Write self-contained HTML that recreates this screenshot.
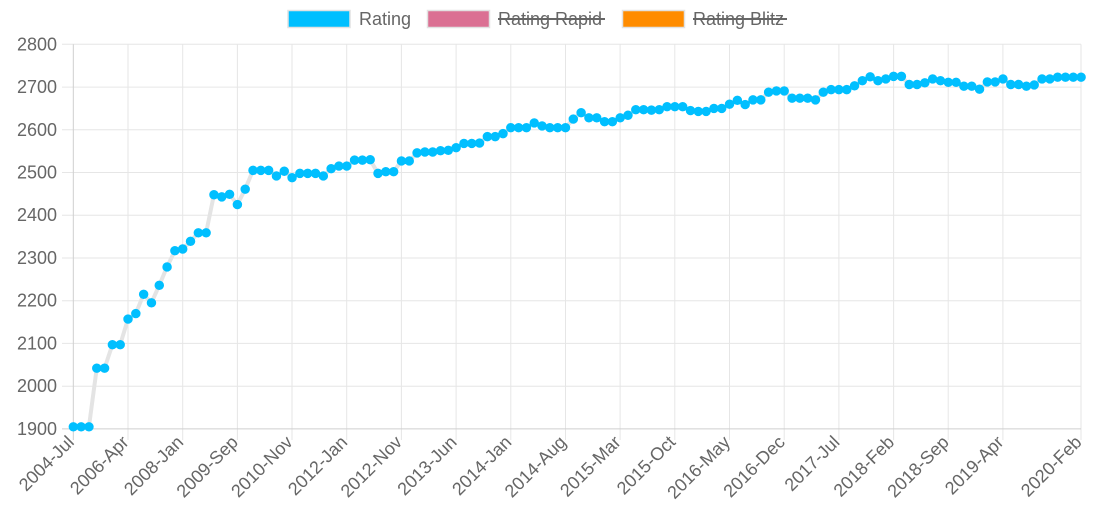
<!DOCTYPE html>
<html>
<head>
<meta charset="utf-8">
<style>
  html, body { margin: 0; padding: 0; background: #fff; }
  svg { display: block; }
  text { font-family: "Liberation Sans", Arial, sans-serif; font-size: 18px; fill: #666; }
</style>
</head>
<body>
<svg width="1102" height="519" viewBox="0 0 1102 519" xmlns="http://www.w3.org/2000/svg">
  <rect x="0" y="0" width="1102" height="519" fill="#fff"/>

  <!-- Legend -->
  <rect x="288" y="10.5" width="62" height="17" fill="#00bfff" stroke="#e2e2e2" stroke-width="1.5"/>
  <text x="359" y="19" dominant-baseline="central">Rating</text>
  <rect x="427.5" y="10.5" width="62" height="17" fill="#db7093" stroke="#e2e2e2" stroke-width="1.5"/>
  <text x="498" y="19" dominant-baseline="central">Rating Rapid</text>
  <line x1="498" y1="19" x2="605" y2="19" stroke="#666" stroke-width="2"/>
  <rect x="622.5" y="10.5" width="62" height="17" fill="#ff8c00" stroke="#e2e2e2" stroke-width="1.5"/>
  <text x="693" y="19" dominant-baseline="central">Rating Blitz</text>
  <line x1="693" y1="19" x2="787" y2="19" stroke="#666" stroke-width="2"/>

  <!-- Horizontal grid -->
  <g stroke="#e6e6e6" stroke-width="1">
    <line x1="62" y1="44.3" x2="1081" y2="44.3"/>
    <line x1="62" y1="87.1" x2="1081" y2="87.1"/>
    <line x1="62" y1="129.8" x2="1081" y2="129.8"/>
    <line x1="62" y1="172.5" x2="1081" y2="172.5"/>
    <line x1="62" y1="215.2" x2="1081" y2="215.2"/>
    <line x1="62" y1="258.0" x2="1081" y2="258.0"/>
    <line x1="62" y1="300.7" x2="1081" y2="300.7"/>
    <line x1="62" y1="343.4" x2="1081" y2="343.4"/>
    <line x1="62" y1="386.2" x2="1081" y2="386.2"/>
  </g>
  <!-- Vertical grid -->
  <g stroke="#e6e6e6" stroke-width="1">
    <line x1="128.0" y1="44.3" x2="128.0" y2="440"/>
    <line x1="182.7" y1="44.3" x2="182.7" y2="440"/>
    <line x1="237.4" y1="44.3" x2="237.4" y2="440"/>
    <line x1="292.0" y1="44.3" x2="292.0" y2="440"/>
    <line x1="346.7" y1="44.3" x2="346.7" y2="440"/>
    <line x1="401.4" y1="44.3" x2="401.4" y2="440"/>
    <line x1="456.1" y1="44.3" x2="456.1" y2="440"/>
    <line x1="510.8" y1="44.3" x2="510.8" y2="440"/>
    <line x1="565.5" y1="44.3" x2="565.5" y2="440"/>
    <line x1="620.1" y1="44.3" x2="620.1" y2="440"/>
    <line x1="674.8" y1="44.3" x2="674.8" y2="440"/>
    <line x1="729.5" y1="44.3" x2="729.5" y2="440"/>
    <line x1="784.2" y1="44.3" x2="784.2" y2="440"/>
    <line x1="838.9" y1="44.3" x2="838.9" y2="440"/>
    <line x1="893.6" y1="44.3" x2="893.6" y2="440"/>
    <line x1="948.2" y1="44.3" x2="948.2" y2="440"/>
    <line x1="1002.9" y1="44.3" x2="1002.9" y2="440"/>
    <line x1="1081.0" y1="44.3" x2="1081.0" y2="440"/>
  </g>
  <!-- Axis borders -->
  <line x1="62" y1="428.9" x2="1081" y2="428.9" stroke="#cfcfcf" stroke-width="1"/>
  <line x1="73.3" y1="44.3" x2="73.3" y2="440" stroke="#cfcfcf" stroke-width="1"/>

  <!-- Y labels -->
  <g text-anchor="end" dominant-baseline="central">
    <text x="57" y="44.3">2800</text>
    <text x="57" y="87.1">2700</text>
    <text x="57" y="129.8">2600</text>
    <text x="57" y="172.5">2500</text>
    <text x="57" y="215.2">2400</text>
    <text x="57" y="258.0">2300</text>
    <text x="57" y="300.7">2200</text>
    <text x="57" y="343.4">2100</text>
    <text x="57" y="386.2">2000</text>
    <text x="57" y="428.9">1900</text>
  </g>

  <!-- X labels -->
  <g text-anchor="end" dominant-baseline="central">
    <text transform="translate(70.8,439) rotate(-45)">2004-Jul</text>
    <text transform="translate(125.5,439) rotate(-45)">2006-Apr</text>
    <text transform="translate(180.2,439) rotate(-45)">2008-Jan</text>
    <text transform="translate(234.9,439) rotate(-45)">2009-Sep</text>
    <text transform="translate(289.5,439) rotate(-45)">2010-Nov</text>
    <text transform="translate(344.2,439) rotate(-45)">2012-Jan</text>
    <text transform="translate(398.9,439) rotate(-45)">2012-Nov</text>
    <text transform="translate(453.6,439) rotate(-45)">2013-Jun</text>
    <text transform="translate(508.3,439) rotate(-45)">2014-Jan</text>
    <text transform="translate(563.0,439) rotate(-45)">2014-Aug</text>
    <text transform="translate(617.6,439) rotate(-45)">2015-Mar</text>
    <text transform="translate(672.3,439) rotate(-45)">2015-Oct</text>
    <text transform="translate(727.0,439) rotate(-45)">2016-May</text>
    <text transform="translate(781.7,439) rotate(-45)">2016-Dec</text>
    <text transform="translate(836.4,439) rotate(-45)">2017-Jul</text>
    <text transform="translate(891.1,439) rotate(-45)">2018-Feb</text>
    <text transform="translate(945.7,439) rotate(-45)">2018-Sep</text>
    <text transform="translate(1000.4,439) rotate(-45)">2019-Apr</text>
    <text transform="translate(1078.5,439) rotate(-45)">2020-Feb</text>
  </g>

  <!-- Data -->
  <g transform="translate(73.3,428.9) scale(7.812,-0.4273)">
    <polyline fill="none" stroke="#e4e4e4" stroke-width="4" stroke-linejoin="round" vector-effect="non-scaling-stroke"
      points="0,5 1,5 2,5 3,142 4,142 5,197 6,197 7,257 8,270 9,315 10,295 11,336 12,379 13,417 14,421 15,439 16,459 17,459 18,548 19,543 20,549 21,525 22,561 23,605 24,605 25,605 26,592 27,603 28,588 29,598 30,598 31,598 32,592 33,609 34,615 35,615 36,629 37,629 38,630 39,598 40,602 41,602 42,627 43,627 44,646 45,648 46,648 47,651 48,652 49,658 50,668 51,668 52,669 53,684 54,684 55,691 56,705 57,705 58,705 59,716 60,709 61,705 62,705 63,705 64,725 65,740 66,728 67,728 68,719 69,719 70,728 71,734 72,747 73,747 74,746 75,747 76,754 77,754 78,754 79,745 80,743 81,743 82,750 83,750 84,760 85,769 86,759 87,770 88,770 89,788 90,791 91,791 92,774 93,774 94,774 95,770 96,788 97,794 98,794 99,794 100,803 101,815 102,824 103,815 104,819 105,825 106,825 107,806 108,806 109,810 110,819 111,815 112,811 113,811 114,802 115,802 116,795 117,812 118,812 119,819 120,806 121,806 122,802 123,805 124,819 125,819 126,823 127,823 128,823 129,823"/>
    <path fill="none" stroke="#00bfff" stroke-width="9.4" stroke-linecap="round" vector-effect="non-scaling-stroke"
      d="M0,5h0.01M1,5h0.01M2,5h0.01M3,142h0.01M4,142h0.01M5,197h0.01M6,197h0.01M7,257h0.01M8,270h0.01M9,315h0.01M10,295h0.01M11,336h0.01M12,379h0.01M13,417h0.01M14,421h0.01M15,439h0.01M16,459h0.01M17,459h0.01M18,548h0.01M19,543h0.01M20,549h0.01M21,525h0.01M22,561h0.01M23,605h0.01M24,605h0.01M25,605h0.01M26,592h0.01M27,603h0.01M28,588h0.01M29,598h0.01M30,598h0.01M31,598h0.01M32,592h0.01M33,609h0.01M34,615h0.01M35,615h0.01M36,629h0.01M37,629h0.01M38,630h0.01M39,598h0.01M40,602h0.01M41,602h0.01M42,627h0.01M43,627h0.01M44,646h0.01M45,648h0.01M46,648h0.01M47,651h0.01M48,652h0.01M49,658h0.01M50,668h0.01M51,668h0.01M52,669h0.01M53,684h0.01M54,684h0.01M55,691h0.01M56,705h0.01M57,705h0.01M58,705h0.01M59,716h0.01M60,709h0.01M61,705h0.01M62,705h0.01M63,705h0.01M64,725h0.01M65,740h0.01M66,728h0.01M67,728h0.01M68,719h0.01M69,719h0.01M70,728h0.01M71,734h0.01M72,747h0.01M73,747h0.01M74,746h0.01M75,747h0.01M76,754h0.01M77,754h0.01M78,754h0.01M79,745h0.01M80,743h0.01M81,743h0.01M82,750h0.01M83,750h0.01M84,760h0.01M85,769h0.01M86,759h0.01M87,770h0.01M88,770h0.01M89,788h0.01M90,791h0.01M91,791h0.01M92,774h0.01M93,774h0.01M94,774h0.01M95,770h0.01M96,788h0.01M97,794h0.01M98,794h0.01M99,794h0.01M100,803h0.01M101,815h0.01M102,824h0.01M103,815h0.01M104,819h0.01M105,825h0.01M106,825h0.01M107,806h0.01M108,806h0.01M109,810h0.01M110,819h0.01M111,815h0.01M112,811h0.01M113,811h0.01M114,802h0.01M115,802h0.01M116,795h0.01M117,812h0.01M118,812h0.01M119,819h0.01M120,806h0.01M121,806h0.01M122,802h0.01M123,805h0.01M124,819h0.01M125,819h0.01M126,823h0.01M127,823h0.01M128,823h0.01M129,823h0.01"/>
  </g>
</svg>
</body>
</html>
